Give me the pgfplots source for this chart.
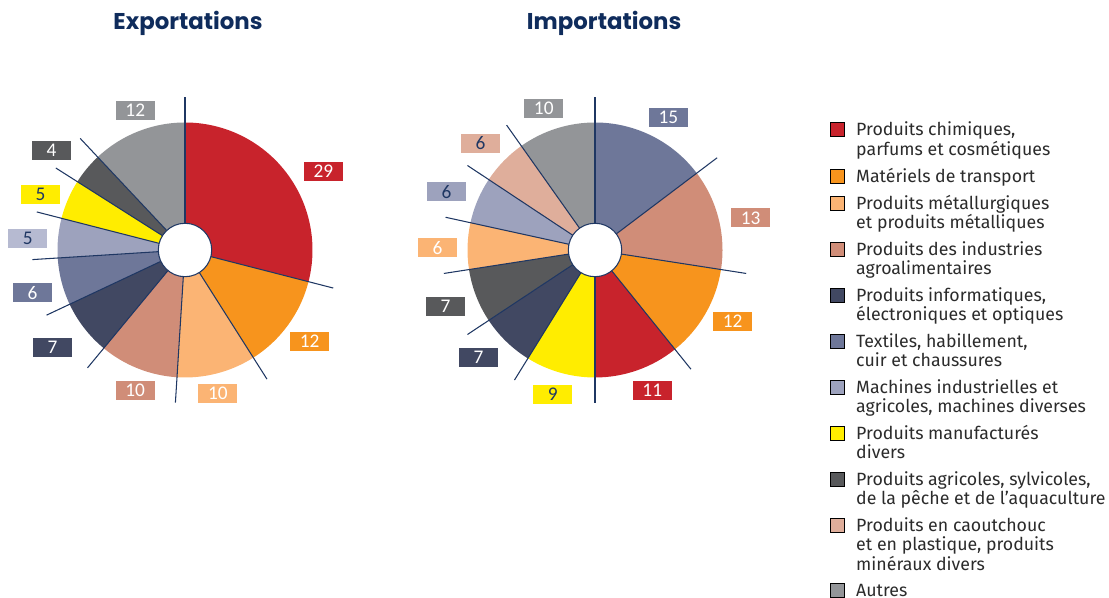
\documentclass[border=0pt]{standalone}
\usepackage{fontspec}
\setmainfont{Fira Sans}
\newfontfamily\numfont{Carlito}
\newfontfamily\titlefont{Poppins}
\usepackage{pgfplots}
\pgfplotsset{compat=1.18}

\definecolor{cRed}{HTML}{C8232C}
\definecolor{cOrange}{HTML}{F7941D}
\definecolor{cLOrange}{HTML}{FBB474}
\definecolor{cSalmon}{HTML}{D08D78}
\definecolor{cNavy}{HTML}{414862}
\definecolor{cSlate}{HTML}{6E7799}
\definecolor{cLav}{HTML}{9DA2BD}
\definecolor{cLavBox}{HTML}{B6BAD1}
\definecolor{cYellow}{HTML}{FFED00}
\definecolor{cDGrey}{HTML}{58595B}
\definecolor{cPeach}{HTML}{DFAE9B}
\definecolor{cGrey}{HTML}{939598}
\definecolor{cLine}{HTML}{1F3763}
\definecolor{cTitle}{HTML}{0F2C5C}
\definecolor{cText}{HTML}{2B2B2B}

\newcommand{\pieR}{2.55cm}
% slice from cumulative share #1 to #2 out of total #3, clockwise from the top
\newcommand{\slice}[4]{%
  \pgfmathsetmacro{\angA}{90-(#1/#3)*360}%
  \pgfmathsetmacro{\angB}{90-(#2/#3)*360}%
  \edef\doslice{\noexpand\addplot[draw=none, fill=#4, data cs=polar]
    coordinates {(0,0) (\angA,1)} arc[start angle=\angA, end angle=\angB, radius=\pieR] -- cycle;}%
  \doslice}
\newcommand{\leader}[2]{%
  \pgfmathsetmacro{\angA}{90-(#1/#2)*360}%
  \edef\doleader{\noexpand\addplot[draw=cLine, line width=0.6pt, data cs=polar]
    coordinates {(\angA,0.21) (\angA,1.2)};}%
  \doleader}
\newcommand{\lab}[5]{\node[fill=#3, text=#4, minimum width=0.78cm, minimum height=0.38cm,
  inner sep=0pt, font=\numfont\fontsize{11}{11}\selectfont] at (axis cs:#1,#2) {#5};}
\newcommand{\ls}{\rule[-3pt]{0pt}{9pt}}
% legend entry: lines stacked, baseline on the first line
\newcommand{\entry}[1]{\begin{tabular}[t]{@{}l@{}}\ls#1\ls\end{tabular}}

\pgfplotsset{
  pie/.style={x=\pieR, y=\pieR, xmin=-1.5, xmax=1.5, ymin=-1.5, ymax=1.5,
    hide axis, clip=false, anchor=origin},
}

\begin{document}
\begin{tikzpicture}
\useasboundingbox (0,0) rectangle (22.18,11.96);

% frame: titles and legend (1 unit = 1 px of the reference)
\begin{axis}[at={(0,0)}, anchor=origin, x=0.02cm, y=0.02cm,
  xmin=0, xmax=1109, ymin=0, ymax=598, hide axis, clip=false,
  legend style={at={(axis cs:829,476.5)}, anchor=north west, draw=none, fill=none,
    inner sep=0pt, row sep=4.1pt, column sep=0.24cm, text=cText,
    font=\fontsize{10.1}{10.4}\selectfont,
    nodes={inner sep=0pt, text depth=, text height=}, cells={anchor=base west}},
  legend image code/.code={\fill[#1] (0cm,-0.02cm) rectangle (0.28cm,0.26cm);}]
\addlegendimage{fill=cRed}
\addlegendentry{\entry{Produits chimiques,\\parfums et cosmétiques}}
\addlegendimage{fill=cOrange}
\addlegendentry{\entry{Matériels de transport}}
\addlegendimage{fill=cLOrange}
\addlegendentry{\entry{Produits métallurgiques\\et produits métalliques}}
\addlegendimage{fill=cSalmon}
\addlegendentry{\entry{Produits des industries\\agroalimentaires}}
\addlegendimage{fill=cNavy}
\addlegendentry{\entry{Produits informatiques,\\électroniques et optiques}}
\addlegendimage{fill=cSlate}
\addlegendentry{\entry{Textiles, habillement,\\cuir et chaussures}}
\addlegendimage{fill=cLav}
\addlegendentry{\entry{Machines industrielles et\\agricoles, machines diverses}}
\addlegendimage{fill=cYellow}
\addlegendentry{\entry{Produits manufacturés\\divers}}
\addlegendimage{fill=cDGrey}
\addlegendentry{\entry{Produits agricoles, sylvicoles,\\de la pêche et de l’aquaculture}}
\addlegendimage{fill=cPeach}
\addlegendentry{\entry{Produits en caoutchouc\\et en plastique, produits\\minéraux divers}}
\addlegendimage{fill=cGrey}
\addlegendentry{\entry{Autres}}

\node[anchor=base, text=cTitle, font=\titlefont\bfseries\fontsize{13}{15}\selectfont]
  at (axis cs:188,568) {Exportations};
\node[anchor=base, text=cTitle, font=\titlefont\bfseries\fontsize{13}{15}\selectfont]
  at (axis cs:604,568) {Importations};
\end{axis}

% Exportations (shares in %)
\begin{axis}[pie, at={(3.70cm,6.96cm)}]
\slice{0}{29}{100}{cRed}
\slice{29}{41}{100}{cOrange}
\slice{41}{51}{100}{cLOrange}
\slice{51}{61}{100}{cSalmon}
\slice{61}{68}{100}{cNavy}
\slice{68}{74}{100}{cSlate}
\slice{74}{79}{100}{cLav}
\slice{79}{84}{100}{cYellow}
\slice{84}{88}{100}{cDGrey}
\slice{88}{100}{100}{cGrey}
\leader{0}{100}\leader{29}{100}\leader{41}{100}\leader{51}{100}\leader{61}{100}
\leader{68}{100}\leader{74}{100}\leader{79}{100}\leader{84}{100}\leader{88}{100}
\addplot[only marks, mark=*, mark size=15.2pt,
  mark options={fill=white, draw=cLine, line width=0.6pt}] coordinates {(0,0)};
\lab{1.086}{0.617}{cRed}{white}{29}
\lab{0.977}{-0.719}{cOrange}{white}{12}
\lab{0.258}{-1.125}{cLOrange}{white}{10}
\lab{-0.391}{-1.102}{cSalmon}{white}{10}
\lab{-1.039}{-0.766}{cNavy}{white}{7}
\lab{-1.195}{-0.336}{cSlate}{white}{6}
\lab{-1.234}{0.094}{cLavBox}{cLine}{5}
\lab{-1.133}{0.4375}{cYellow}{cLine}{5}
\lab{-1.047}{0.781}{cDGrey}{white}{4}
\lab{-0.39}{1.094}{cGrey}{white}{12}
\end{axis}

% Importations (shares in %, rounded values sum to 102)
\begin{axis}[pie, at={(11.90cm,6.96cm)}]
\slice{0}{15}{102}{cSlate}
\slice{15}{28}{102}{cSalmon}
\slice{28}{40}{102}{cOrange}
\slice{40}{51}{102}{cRed}
\slice{51}{60}{102}{cYellow}
\slice{60}{67}{102}{cNavy}
\slice{67}{74}{102}{cDGrey}
\slice{74}{80}{102}{cLOrange}
\slice{80}{86}{102}{cLav}
\slice{86}{92}{102}{cPeach}
\slice{92}{102}{102}{cGrey}
\leader{0}{102}\leader{15}{102}\leader{28}{102}\leader{40}{102}\leader{51}{102}
\leader{60}{102}\leader{67}{102}\leader{74}{102}\leader{80}{102}\leader{86}{102}
\leader{92}{102}
\addplot[only marks, mark=*, mark size=15.2pt,
  mark options={fill=white, draw=cLine, line width=0.6pt}] coordinates {(0,0)};
\lab{0.575}{1.039}{cSlate}{white}{15}
\lab{1.22}{0.252}{cSalmon}{white}{13}
\lab{1.079}{-0.559}{cOrange}{white}{12}
\lab{0.449}{-1.102}{cRed}{white}{11}
\lab{-0.331}{-1.134}{cYellow}{cLine}{9}
\lab{-0.913}{-0.843}{cNavy}{white}{7}
\lab{-1.173}{-0.441}{cDGrey}{white}{7}
\lab{-1.236}{0.016}{cLOrange}{white}{6}
\lab{-1.165}{0.457}{cLav}{cLine}{6}
\lab{-0.898}{0.835}{cPeach}{cLine}{6}
\lab{-0.402}{1.110}{cGrey}{white}{10}
\end{axis}
\end{tikzpicture}
\end{document}
